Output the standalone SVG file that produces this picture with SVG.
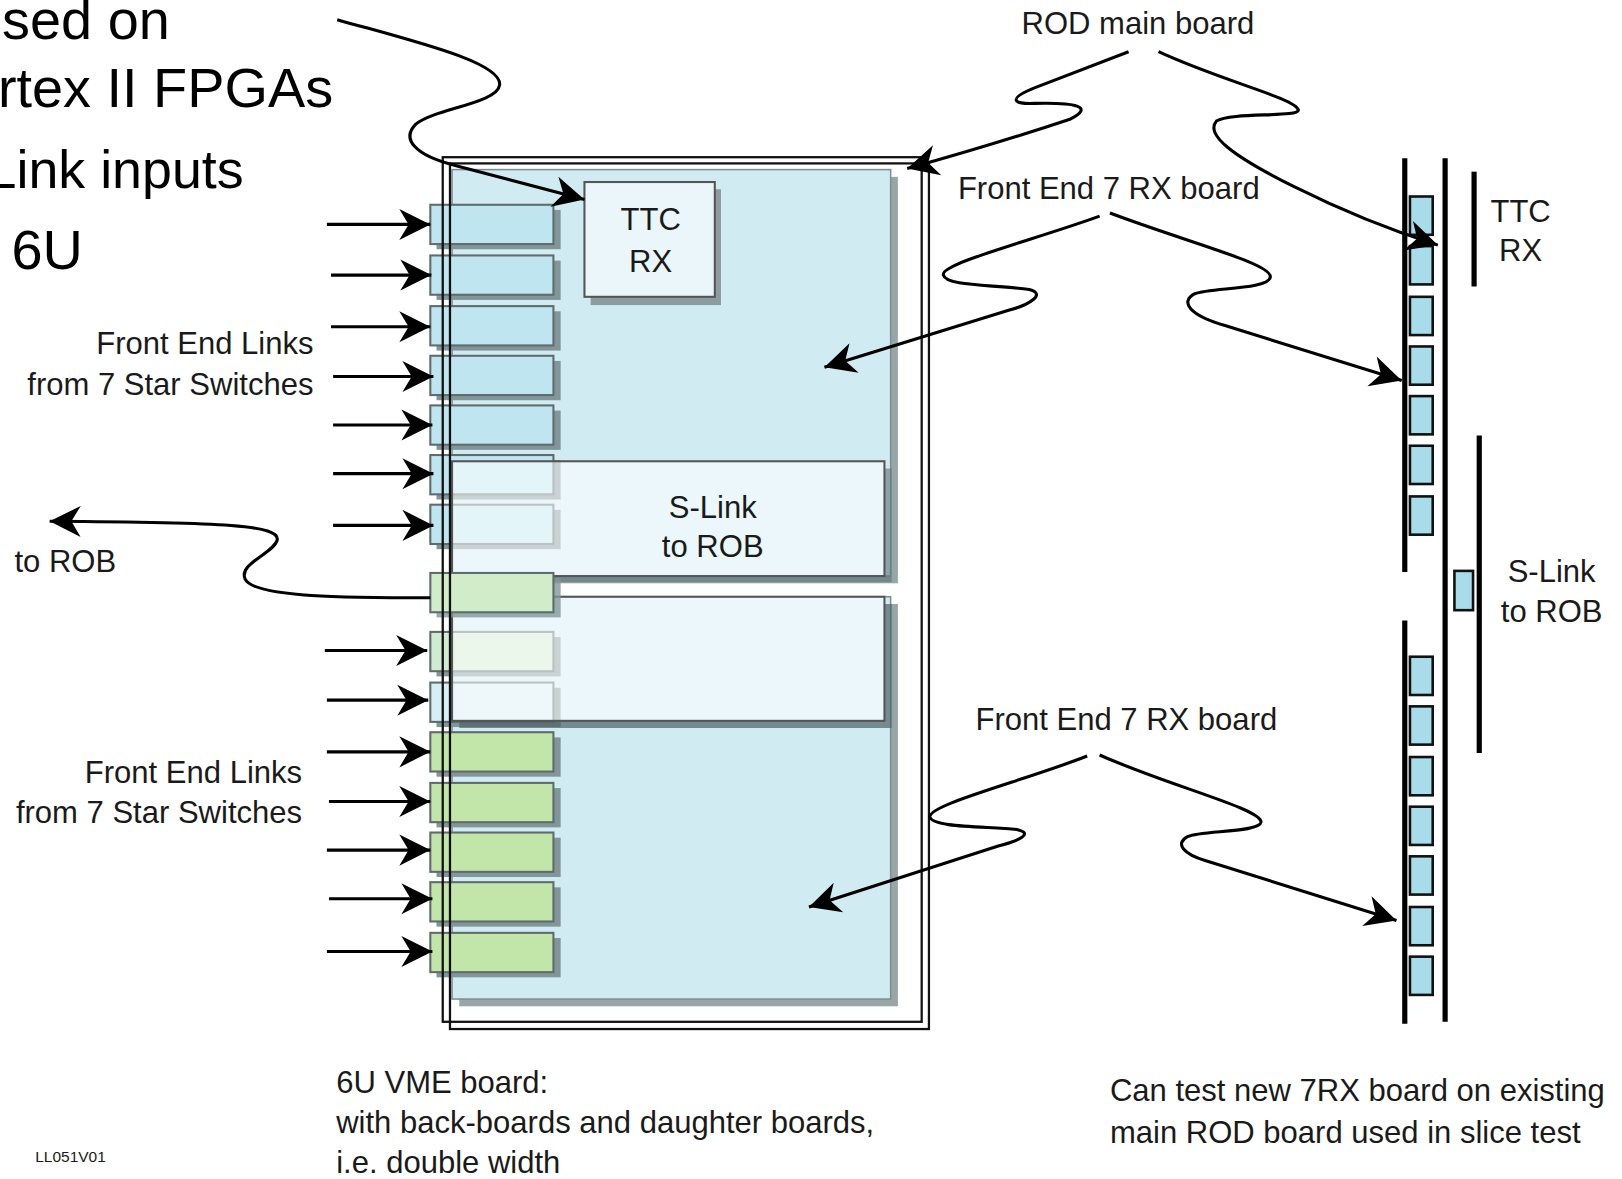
<svg xmlns="http://www.w3.org/2000/svg" width="1622" height="1179" viewBox="0 0 1622 1179">
<defs>
<style>
text{font-family:"Liberation Sans",Arial,sans-serif;fill:#1a1a1a}
.big{font-size:54px;fill:#000}
.lbl{font-size:30px}
.small{font-size:15px}
.mod{stroke:#5f6b6c;stroke-width:2}
.shadow{fill:#82969a}
.blue{fill:#bfe6f0}
.green{fill:#c2e5aa}
.frame{fill:none;stroke:#111;stroke-width:2.2}
.conn{fill:none;stroke:#000;stroke-width:3}
.bar{stroke:#000;stroke-width:5;fill:none}
.rmod{fill:#a9dcea;stroke:#111;stroke-width:2.5}
</style>
<marker id="ah" markerUnits="userSpaceOnUse" markerWidth="36" markerHeight="36" viewBox="-32 -18 36 36" refX="0" refY="0" orient="auto">
<path d="M0,0 L-30,-15 L-21,0 L-30,15 Z" fill="#000"/>
</marker>
</defs>
<rect width="1622" height="1179" fill="#fff"/>
<g transform="scale(1.03444,1.03421)">

<g id="bigtext">
<text class="big" x="2" y="38">sed on</text>
<text class="big" x="-2" y="103">rtex II FPGAs</text>
<text class="big" x="-13" y="182" style="font-size:52px">Link inputs</text>
<text class="big" x="11" y="260">6U</text>
</g>

<g id="main-board">
<rect x="428" y="152" width="463" height="836" fill="#fff"/>
<g id="top-7rx-board">
<rect x="444" y="171" width="424" height="393" fill="#98a6a8"/>
<rect x="437" y="164" width="424" height="393" fill="#d0ecf2" stroke="#7f8f91" stroke-width="1.5"/>
</g>
<g id="bottom-7rx-board">
<rect x="444" y="584" width="424" height="389" fill="#98a6a8"/>
<rect x="437" y="577" width="424" height="389" fill="#d0ecf2" stroke="#7f8f91" stroke-width="1.5"/>
</g>

<g id="ttc-rx">
<rect x="571" y="183" width="126" height="112" fill="#8d9c9e"/>
<rect x="565" y="176" width="126" height="111" fill="#eaf6f9" stroke="#555" stroke-width="2"/>
<text class="lbl" x="629" y="222" text-anchor="middle">TTC</text>
<text class="lbl" x="629" y="263" text-anchor="middle">RX</text>
</g>

<g id="modules">
<rect class="shadow" x="422" y="203" width="120" height="38"/><rect class="mod blue" x="416" y="198" width="119" height="38"/>
<rect class="shadow" x="422" y="252" width="120" height="38"/><rect class="mod blue" x="416" y="247" width="119" height="38"/>
<rect class="shadow" x="422" y="301" width="120" height="38"/><rect class="mod blue" x="416" y="296" width="119" height="38"/>
<rect class="shadow" x="422" y="349" width="120" height="38"/><rect class="mod blue" x="416" y="344" width="119" height="38"/>
<rect class="shadow" x="422" y="397" width="120" height="38"/><rect class="mod blue" x="416" y="392" width="119" height="38"/>
<rect class="shadow" x="422" y="445" width="120" height="38"/><rect class="mod blue" x="416" y="440" width="119" height="38"/>
<rect class="shadow" x="422" y="493" width="120" height="38"/><rect class="mod blue" x="416" y="488" width="119" height="38"/>
<rect class="shadow" x="422" y="616" width="120" height="38"/><rect class="mod" x="416" y="611" width="119" height="38" fill="#d0ecd0"/>
<rect class="shadow" x="422" y="665" width="120" height="38"/><rect class="mod" x="416" y="660" width="119" height="38" fill="#d6eff6"/>
<rect class="shadow" x="422" y="713" width="120" height="38"/><rect class="mod green" x="416" y="708" width="119" height="38"/>
<rect class="shadow" x="422" y="762" width="120" height="38"/><rect class="mod green" x="416" y="757" width="119" height="38"/>
<rect class="shadow" x="422" y="810" width="120" height="38"/><rect class="mod green" x="416" y="805" width="119" height="38"/>
<rect class="shadow" x="422" y="858" width="120" height="38"/><rect class="mod green" x="416" y="853" width="119" height="38"/>
<rect class="shadow" x="422" y="907" width="120" height="38"/><rect class="mod green" x="416" y="902" width="119" height="38"/>
</g>

<g id="slink">
<path d="M855,453 H862 V563 H444 V557 H855 Z" fill="#5e7378" opacity="0.6"/>
<rect x="437" y="446" width="418" height="111" fill="#fff" fill-opacity="0.58" stroke="#555" stroke-width="2"/>
<path d="M855,584 H862 V704 H444 V697 H855 Z" fill="#4f6367" opacity="0.7"/>
<rect x="437" y="577" width="418" height="120" fill="#fff" fill-opacity="0.58" stroke="#555" stroke-width="2"/>
<text class="lbl" x="689" y="501" text-anchor="middle">S-Link</text>
<text class="lbl" x="689" y="539" text-anchor="middle">to ROB</text>
</g>

<g id="slink-module">
<rect class="shadow" x="422" y="559" width="120" height="38" opacity="0.8"/><rect class="mod" x="416" y="554" width="119" height="38" fill="#d0ecc8"/>
</g>

<rect class="frame" x="428" y="152" width="463" height="836"/>
<rect class="frame" x="435" y="158" width="463" height="837"/>
</g>

<g id="right-diagram">
<line class="bar" x1="1358" y1="153" x2="1358" y2="553"/>
<line class="bar" x1="1358" y1="600" x2="1358" y2="990"/>
<line class="bar" x1="1397" y1="153" x2="1397" y2="988"/>
<line class="bar" x1="1425" y1="166" x2="1425" y2="277"/>
<line class="bar" x1="1430" y1="421" x2="1430" y2="728"/>
<rect class="rmod" x="1363" y="190" width="22" height="37"/>
<rect class="rmod" x="1363" y="238" width="22" height="37"/>
<rect class="rmod" x="1363" y="287" width="22" height="37"/>
<rect class="rmod" x="1363" y="335" width="22" height="37"/>
<rect class="rmod" x="1363" y="383" width="22" height="37"/>
<rect class="rmod" x="1363" y="431" width="22" height="37"/>
<rect class="rmod" x="1363" y="480" width="22" height="37"/>
<rect class="rmod" x="1363" y="635" width="22" height="37"/>
<rect class="rmod" x="1363" y="683" width="22" height="37"/>
<rect class="rmod" x="1363" y="732" width="22" height="37"/>
<rect class="rmod" x="1363" y="780" width="22" height="37"/>
<rect class="rmod" x="1363" y="828" width="22" height="37"/>
<rect class="rmod" x="1363" y="877" width="22" height="37"/>
<rect class="rmod" x="1363" y="925" width="22" height="37"/>
<rect class="rmod" x="1406" y="552" width="18" height="38"/>
<text class="lbl" x="1470" y="215" text-anchor="middle">TTC</text>
<text class="lbl" x="1470" y="252" text-anchor="middle">RX</text>
<text class="lbl" x="1500" y="563" text-anchor="middle">S-Link</text>
<text class="lbl" x="1500" y="601" text-anchor="middle">to ROB</text>
</g>

<g id="labels">
<text class="lbl" x="303" y="342" text-anchor="end">Front End Links</text>
<text class="lbl" x="303" y="382" text-anchor="end">from 7 Star Switches</text>
<text class="lbl" x="292" y="757" text-anchor="end">Front End Links</text>
<text class="lbl" x="292" y="796" text-anchor="end">from 7 Star Switches</text>
<text class="lbl" x="14" y="553">to ROB</text>
<text class="lbl" x="1100" y="33" text-anchor="middle">ROD main board</text>
<text class="lbl" x="926" y="192">Front End 7 RX board</text>
<text class="lbl" x="943" y="706">Front End 7 RX board</text>
<text class="lbl" x="325" y="1057">6U VME board:</text>
<text class="lbl" x="325" y="1096">with back-boards and daughter boards,</text>
<text class="lbl" x="325" y="1134">i.e. double width</text>
<text class="lbl" x="1073" y="1065">Can test new 7RX board on existing</text>
<text class="lbl" x="1073" y="1105">main ROD board used in slice test</text>
<text class="small" x="34" y="1124">LL051V01</text>
</g>

<g id="connectors">
<path class="conn" d="M316,217 H416" marker-end="url(#ah)"/>
<path class="conn" d="M320,266 H417" marker-end="url(#ah)"/>
<path class="conn" d="M320,316 H416" marker-end="url(#ah)"/>
<path class="conn" d="M322,364 H419" marker-end="url(#ah)"/>
<path class="conn" d="M322,411 H418" marker-end="url(#ah)"/>
<path class="conn" d="M322,458 H419" marker-end="url(#ah)"/>
<path class="conn" d="M322,508 H419" marker-end="url(#ah)"/>
<path class="conn" d="M314,629 H413" marker-end="url(#ah)"/>
<path class="conn" d="M316,677 H414" marker-end="url(#ah)"/>
<path class="conn" d="M316,727 H416" marker-end="url(#ah)"/>
<path class="conn" d="M318,775 H416" marker-end="url(#ah)"/>
<path class="conn" d="M316,822 H416" marker-end="url(#ah)"/>
<path class="conn" d="M318,869 H418" marker-end="url(#ah)"/>
<path class="conn" d="M316,920 H418" marker-end="url(#ah)"/>
<path class="conn" d="M416,578 C340,578 245,578 237,560 C230,545 265,535 268,522 C270,508 220,505 48,504" marker-end="url(#ah)"/>
<path class="conn" d="M326,19 C400,40 485,60 483,82 C481,100 420,105 402,120 C388,134 400,150 440,160 L565,193" marker-end="url(#ah)"/>
<path class="conn" d="M1091,50 L1000,85 C975,95 978,101 1000,100 C1040,99 1058,103 1035,115 Q960,140 877,163" marker-end="url(#ah)"/>
<path class="conn" d="M1120,50 C1180,78 1252,95 1255,106 C1258,114 1190,108 1176,117 C1165,130 1190,150 1250,180 Q1320,215 1390,237" marker-end="url(#ah)"/>
<path class="conn" d="M1063,209 C1000,232 908,255 912,266 C915,277 960,275 995,280 C1012,284 995,295 975,300 L797,355" marker-end="url(#ah)"/>
<path class="conn" d="M1073,206 C1150,235 1230,255 1228,268 C1226,280 1170,278 1155,284 C1140,292 1150,305 1185,315 L1355,368" marker-end="url(#ah)"/>
<path class="conn" d="M1051,731 C990,755 897,778 899,790 C901,800 950,799 983,802 C1000,806 985,813 965,818 L782,877" marker-end="url(#ah)"/>
<path class="conn" d="M1063,730 C1130,760 1220,782 1219,795 C1218,805 1160,803 1148,809 C1135,816 1145,826 1165,832 L1350,890" marker-end="url(#ah)"/>
</g>
</g>
</svg>
